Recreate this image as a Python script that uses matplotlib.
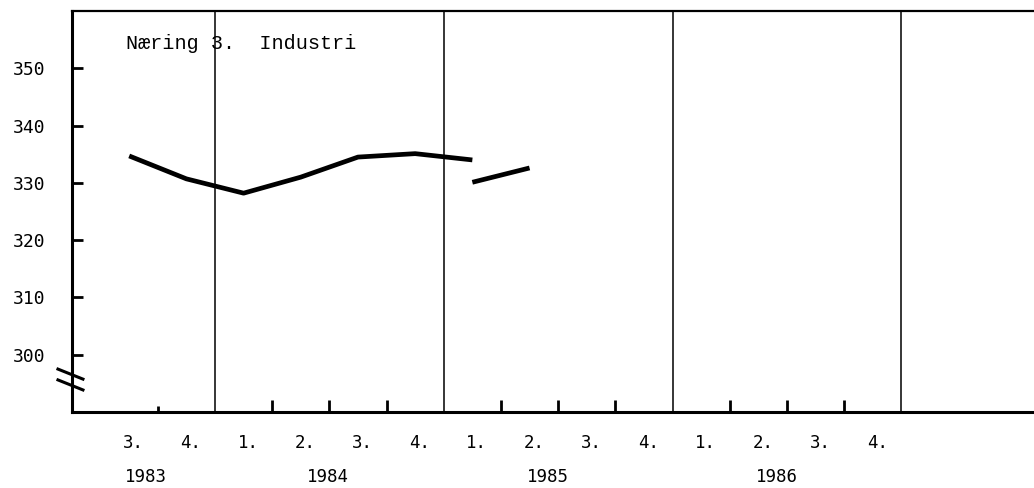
import numpy as np
import matplotlib.pyplot as plt
from matplotlib.lines import Line2D

# quarters counted from 1984 Q1 start = 0 (x = quarter centre)
old_x = [-1.5, -0.5, 0.5, 1.5, 2.5, 3.5, 4.5]
old_y = [334.7, 330.7, 328.2, 331.0, 334.5, 335.1, 334.0]
new_x = [4.5, 5.5]
new_y = [330.1, 332.6]

quarter_labels = ['3.', '4.', '1.', '2.', '3.', '4.', '1.', '2.', '3.', '4.', '1.', '2.', '3.', '4.']
quarter_pos = [-1.5, -0.5, 0.5, 1.5, 2.5, 3.5, 4.5, 5.5, 6.5, 7.5, 8.5, 9.5, 10.5, 11.5]
years = ['1983', '1984', '1985', '1986']
year_pos = [-1.57, 1.6, 5.45, 9.45]
yticks = [300, 310, 320, 330, 340, 350]
year_lines = [0, 4, 8, 12]

fig = plt.figure(figsize=(10.34, 4.88), dpi=100)
ax = fig.add_axes([72 / 1034, 1 - 412 / 488, 1 - 72 / 1034, 401 / 488])
ax.set_xlim(-2.5, 14.32)
ax.set_ylim(290, 360)

ax.plot(old_x, old_y, color='black', lw=3.4, solid_capstyle='butt', solid_joinstyle='round')
ax.plot(new_x, new_y, color='black', lw=3.4, solid_capstyle='butt')

for x in year_lines:
    ax.axvline(x, color='black', lw=1.1)

ax.spines['right'].set_visible(False)
ax.spines['left'].set_linewidth(2.2)
ax.spines['bottom'].set_linewidth(2.2)
ax.spines['top'].set_linewidth(1.6)

mono = 'DejaVu Sans Mono'
ax.set_yticks(yticks)
ax.set_yticklabels([str(v) for v in yticks], family=mono, fontsize=13)
ax.tick_params(axis='y', direction='in', length=8, width=2, pad=19)

ax.set_xticks([1, 2, 3, 5, 6, 7, 9, 10, 11])
ax.set_xticks([-1], minor=True)
ax.set_xticklabels([])
ax.tick_params(axis='x', which='major', direction='in', length=9, width=2)
ax.tick_params(axis='x', which='minor', direction='in', length=4, width=2)

for lab, x in zip(quarter_labels, quarter_pos):
    ax.annotate(lab, xy=(x + 0.08, 0), xycoords=('data', 'axes fraction'),
                xytext=(0, -22), textcoords='offset points',
                ha='center', va='center', family=mono, fontsize=12.5)
for lab, x in zip(years, year_pos):
    ax.annotate(lab, xy=(x, 0), xycoords=('data', 'axes fraction'),
                xytext=(0, -47), textcoords='offset points',
                ha='left', va='center', family=mono, fontsize=12.5)

ax.text(-1.55, 354.4, 'Næring 3.  Industri', family='Liberation Mono',
        fontsize=14.5, ha='left', va='center')

# axis break mark
for y0, y1 in [(0.107, 0.082), (0.080, 0.055)]:
    ax.add_line(Line2D([-0.0146, 0.0114], [y0, y1], transform=ax.transAxes,
                       color='black', lw=2.2, clip_on=False))

fig.savefig('out.png', dpi=100)
